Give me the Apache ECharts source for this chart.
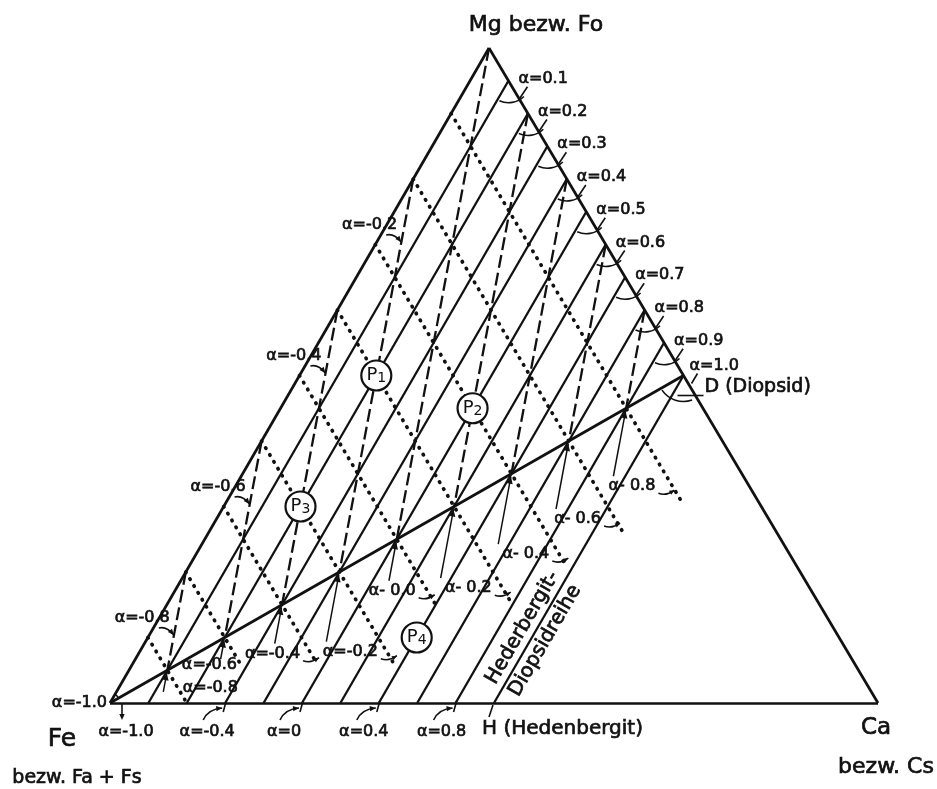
<!DOCTYPE html>
<html>
<head>
<meta charset="utf-8">
<script src="https://cdn.jsdelivr.net/npm/echarts@6/dist/echarts.min.js"></script>
<style>
  html, body { margin: 0; background: #fff; }
  #chart { width: 937px; height: 789px; }
</style>
</head>
<body>
<div id="chart"></div>
<script>
// ternary coordinates: u = Ca share, v = Mg share (Fe = 1 - u - v)
const apexShift = 0.4935;   // Mg apex sits slightly left of the Fe-Ca midpoint

// solid lines parallel to Fe-Mg (constant Ca); the last one is H-D
const tieU = [0.05, 0.10, 0.15, 0.20, 0.25, 0.30, 0.35, 0.40, 0.45, 0.50];
const topAlpha = ['0.1', '0.2', '0.3', '0.4', '0.5', '0.6', '0.7', '0.8', '0.9', '1.0'];

// dotted lines of constant Ca+Mg and the Ca share where each one stops
const dotSum = [0.1, 0.2, 0.3, 0.4, 0.5, 0.6, 0.7, 0.8, 0.9];
const dotEndU = [0.095, 0.142, 0.24, 0.34, 0.35, 0.443, 0.491, 0.542, 0.592];
const dotAlpha = ['-0.8', '-0.6', '-0.4', '-0.2', '0.0', '0.2', '0.4', '0.6', '0.8'];

// dashed lines of constant 3*Ca + Mg, from the rim down to the Fe-D line
const dashC = [0.2, 0.4, 0.6, 0.8, 1.0, 1.2, 1.4, 1.6, 1.8];
const leftAlpha = ['-0.8', '-0.6', '-0.4', '-0.2'];

// alpha marks on Fe-Ca
const baseU = [0, 0.15, 0.25, 0.35, 0.45];
const baseAlpha = ['-1.0', '-0.4', '0', '0.4', '0.8'];

// sample points
const pName = ['1', '2', '3', '4'];
const pU = [0.10, 0.25, 0.10, 0.35];
const pV = [0.50, 0.45, 0.30, 0.10];

// label nudges (pixels)
const lowerShift = [[53, -12], [-4, 0], [-17, -10], [-16, -12], [-20, -14], [-18, -12], [-17, -12], [-23, -15], [-26, -15]];
const baseDx = [16, -18, -18, -15, -14];

const ink = '#111';
const font = "'DejaVu Sans', sans-serif";

function xy(u, v) { return [u + v * apexShift, v]; }
function seg(a, b) { return { coords: [xy(a[0], a[1]), xy(b[0], b[1])] }; }
function dashStart(c) { return c <= 1 ? [0, c] : [(c - 1) / 2, 1 - (c - 1) / 2]; }

const frame = [seg([0, 0], [1, 0]), seg([1, 0], [0, 1]), seg([0, 1], [0, 0]), seg([0, 0], [0.5, 0.5])];
const ties = tieU.map(u => seg([u, 0], [u, 1 - u]));
const dashes = dashC.map(c => seg(dashStart(c), [c / 4, c / 4]));
const dots = dotSum.map((s, i) => seg([0, s], [dotEndU[i], s - dotEndU[i]]));

// small drawing helpers for the custom series
function line(a, b, w) {
  return { type: 'line', shape: { x1: a[0], y1: a[1], x2: b[0], y2: b[1] }, style: { stroke: ink, lineWidth: w || 1.6 } };
}
function curve(a, c, b, w) {
  return { type: 'bezierCurve', shape: { x1: a[0], y1: a[1], cpx1: c[0], cpy1: c[1], x2: b[0], y2: b[1] },
           style: { stroke: ink, fill: 'none', lineWidth: w || 1.6 } };
}
function head(tip, from, size) {
  const dx = tip[0] - from[0], dy = tip[1] - from[1];
  const l = Math.hypot(dx, dy) || 1, ux = dx / l, uy = dy / l;
  const bx = tip[0] - ux * size, by = tip[1] - uy * size, w = size * 0.45;
  return { type: 'polygon', shape: { points: [tip, [bx - uy * w, by + ux * w], [bx + uy * w, by - ux * w]] }, style: { fill: ink } };
}
function arc(c, r, a0, a1, w) {
  return { type: 'arc', shape: { cx: c[0], cy: c[1], r: r, startAngle: a0, endAngle: a1, clockwise: true },
           style: { stroke: ink, fill: 'none', lineWidth: w || 1.6 } };
}
function text(str, p, size, align, rot) {
  return { type: 'text', x: p[0], y: p[1], rotation: rot || 0,
           style: { text: str, fontSize: size, fontFamily: font, fill: ink, align: align || 'left', verticalAlign: 'middle',
                    stroke: ink, lineWidth: 0.7 } };
}

// alpha marks on Mg-Ca, D label
function renderTop(params, api) {
  const i = params.dataIndex, u = tieU[i];
  const c = api.coord(xy(u, 1 - u));
  const ang = p => Math.atan2(p[1] - c[1], p[0] - c[0]);
  const down = api.coord(xy(u, 0)), ca = api.coord(xy(1, 0)), fe = api.coord(xy(0, 0));
  const kids = [];
  if (i < tieU.length - 1) {
    kids.push(arc(c, 22, ang(ca) - 0.24, ang(down) - 0.1));
    kids.push(line([c[0] + 19, c[1] + 6], [c[0] + 11, c[1] + 18]));
    kids.push(text('α=' + topAlpha[i], [c[0] + 10, c[1] - 2], 16));
  } else {
    kids.push(arc(c, 26, ang(ca) + 0.2, ang(fe) - 0.08));
    kids.push(line([c[0] + 14, c[1] - 2], [c[0] + 8, c[1] + 8]));
    kids.push(text('α=' + topAlpha[i], [c[0] + 6, c[1] - 10], 16));
    kids.push(line([c[0] - 6, c[1] + 20], [c[0] + 20, c[1] + 20]));
    kids.push(text('D (Diopsid)', [c[0] + 21, c[1] + 12], 19));
  }
  return { type: 'group', children: kids };
}

// alpha marks where dashed lines leave Fe-Mg
function renderLeft(params, api) {
  const i = params.dataIndex;
  const s = api.coord(xy(0, dashC[i]));
  const end = [s[0] - 12, s[1] + 63];
  return { type: 'group', children: [
    text('α=' + leftAlpha[i], [s[0] - 16, s[1] + 46], 16, 'right'),
    curve([s[0] - 27, s[1] + 56], [s[0] - 19, s[1] + 54], end),
    head(end, [s[0] - 17, s[1] + 57], 6)
  ] };
}

// alpha marks on the Fe-D line
function renderLower(params, api) {
  const j = params.dataIndex, s = dotSum[j], eu = dotEndU[j];
  const end = api.coord(xy(eu, s - eu));
  const p = api.coord(xy(s / 2, s / 2));
  const q = api.coord(xy(s / 2 + 0.01, s / 2 - 0.03));
  const dl = Math.hypot(q[0] - p[0], q[1] - p[1]);
  const dir = [(q[0] - p[0]) / dl, (q[1] - p[1]) / dl];
  const lab = [end[0] + lowerShift[j][0], end[1] + lowerShift[j][1]];
  const val = dotAlpha[j];
  const str = val.charAt(0) === '-' ? 'α=' + val : 'α- ' + val;
  const L = Math.max(22, (lab[1] - 10 - p[1]) / dir[1]);
  const b = [p[0] + dir[0] * L, p[1] + dir[1] * L];
  const t = [p[0] + dir[0] * 3, p[1] + dir[1] * 3];
  const kids = [text(str, lab, 16, 'right'), line(b, t, 1.5), head(t, b, 7)];
  if (j > 1) {
    const hEnd = [lab[0] + 19, lab[1] + 4];
    kids.push(curve([lab[0] + 3, lab[1] + 7], [lab[0] + 11, lab[1] + 10], hEnd));
    kids.push(head(hEnd, [lab[0] + 12, lab[1] + 8], 5));
  }
  return { type: 'group', children: kids };
}

// alpha marks on Fe-Ca, Fe corner
function renderBase(params, api) {
  const i = params.dataIndex;
  const p = api.coord(xy(baseU[i], 0));
  const kids = [text('α=' + baseAlpha[i], [p[0] + baseDx[i], p[1] + 29], 16, 'center')];
  if (i === 0) {
    kids.push(line([p[0] + 12, p[1] + 1], [p[0] + 12, p[1] + 12]));
    kids.push(head([p[0] + 12, p[1] + 17], [p[0] + 12, p[1] + 8], 6));
    kids.push(text('α=-1.0', [p[0] - 3, p[1]], 16, 'right'));
    const mg = api.coord(xy(0, 1)), d = api.coord(xy(0.5, 0.5));
    kids.push(arc(p, 10, Math.atan2(mg[1] - p[1], mg[0] - p[0]), Math.atan2(d[1] - p[1], d[0] - p[0])));
  } else {
    const tip = [p[0] - 3, p[1] + 5];
    kids.push(curve([p[0] - 22, p[1] + 17], [p[0] - 17, p[1] + 6], tip));
    kids.push(head(tip, [p[0] - 12, p[1] + 6], 6));
    kids.push(line([p[0] + 1, p[1] - 2], [p[0] - 2, p[1] + 9]));
  }
  return { type: 'group', children: kids };
}

// corner names and the Hedenbergit-Diopsid series
function renderNames(params, api) {
  const fe = api.coord(xy(0, 0)), ca = api.coord(xy(1, 0)), mg = api.coord(xy(0, 1));
  const h = api.coord(xy(0.5, 0)), d = api.coord(xy(0.5, 0.5)), m = api.coord(xy(0.5, 0.105));
  const ang = Math.atan2(d[1] - h[1], d[0] - h[0]);
  const n = [Math.sin(ang), -Math.cos(ang)];
  return { type: 'group', children: [
    text('Mg bezw. Fo', [mg[0] + 47, mg[1] - 23], 22, 'center'),
    text('Fe', [fe[0] - 48, fe[1] + 36], 25, 'center'),
    text('bezw. Fa + Fs', [fe[0] - 33, fe[1] + 75], 19, 'center'),
    text('Ca', [ca[0] - 2, ca[1] + 25], 23, 'center'),
    text('bezw. Cs', [ca[0] + 8, ca[1] + 64], 22, 'center'),
    text('H (Hedenbergit)', [h[0] - 12, h[1] + 26], 20, 'left'),
    line([h[0] - 5, h[1] + 14], [h[0] - 1, h[1] + 2]),
    text('Hederbergit-', [m[0] + n[0] * 13, m[1] + n[1] * 13], 20, 'center', -ang),
    text('Diopsidreihe', [m[0] - n[0] * 13, m[1] - n[1] * 13], 20, 'center', -ang)
  ] };
}

function custom(data, fn) {
  return { type: 'custom', coordinateSystem: 'cartesian2d', clip: false, silent: true, z: 4, data: data, renderItem: fn };
}

const chart = echarts.init(document.getElementById('chart'));
chart.setOption({
  animation: false,
  backgroundColor: '#fff',
  grid: { left: 110, top: 48, width: 768, height: 655 },
  xAxis: { type: 'value', min: 0, max: 1, show: false },
  yAxis: { type: 'value', min: 0, max: 1, show: false },
  series: [
    { type: 'lines', coordinateSystem: 'cartesian2d', clip: false, data: frame,
      lineStyle: { color: ink, width: 2.7, opacity: 1 } },
    { type: 'lines', coordinateSystem: 'cartesian2d', clip: false, data: ties,
      lineStyle: { color: ink, width: 2.3, opacity: 1 } },
    { type: 'lines', coordinateSystem: 'cartesian2d', clip: false, data: dashes,
      lineStyle: { color: ink, width: 2.3, type: [13, 5], opacity: 1 } },
    { type: 'lines', coordinateSystem: 'cartesian2d', clip: false, data: dots,
      lineStyle: { color: ink, width: 3.7, type: [0.5, 7.5], cap: 'round', opacity: 1 } },
    custom(tieU.map(u => xy(u, 1 - u)), renderTop),
    custom(leftAlpha.map((a, i) => xy(0, dashC[i])), renderLeft),
    custom(dotSum.map(s => xy(s / 2, s / 2)), renderLower),
    custom(baseU.map(u => xy(u, 0)), renderBase),
    custom([xy(0.5, 0)], renderNames),
    {
      type: 'scatter', z: 6, symbol: 'circle', symbolSize: 30,
      data: pU.map((u, i) => xy(u, pV[i])),
      itemStyle: { color: '#fff', borderColor: ink, borderWidth: 2.2, opacity: 1 },
      label: {
        show: true, position: 'inside',
        formatter: p => '{p|P}{s|' + pName[p.dataIndex] + '}',
        rich: {
          p: { fontSize: 18, fontFamily: font, color: ink },
          s: { fontSize: 14, fontFamily: font, color: ink, padding: [6, 0, 0, 0] }
        }
      }
    }
  ]
});
</script>
</body>
</html>
